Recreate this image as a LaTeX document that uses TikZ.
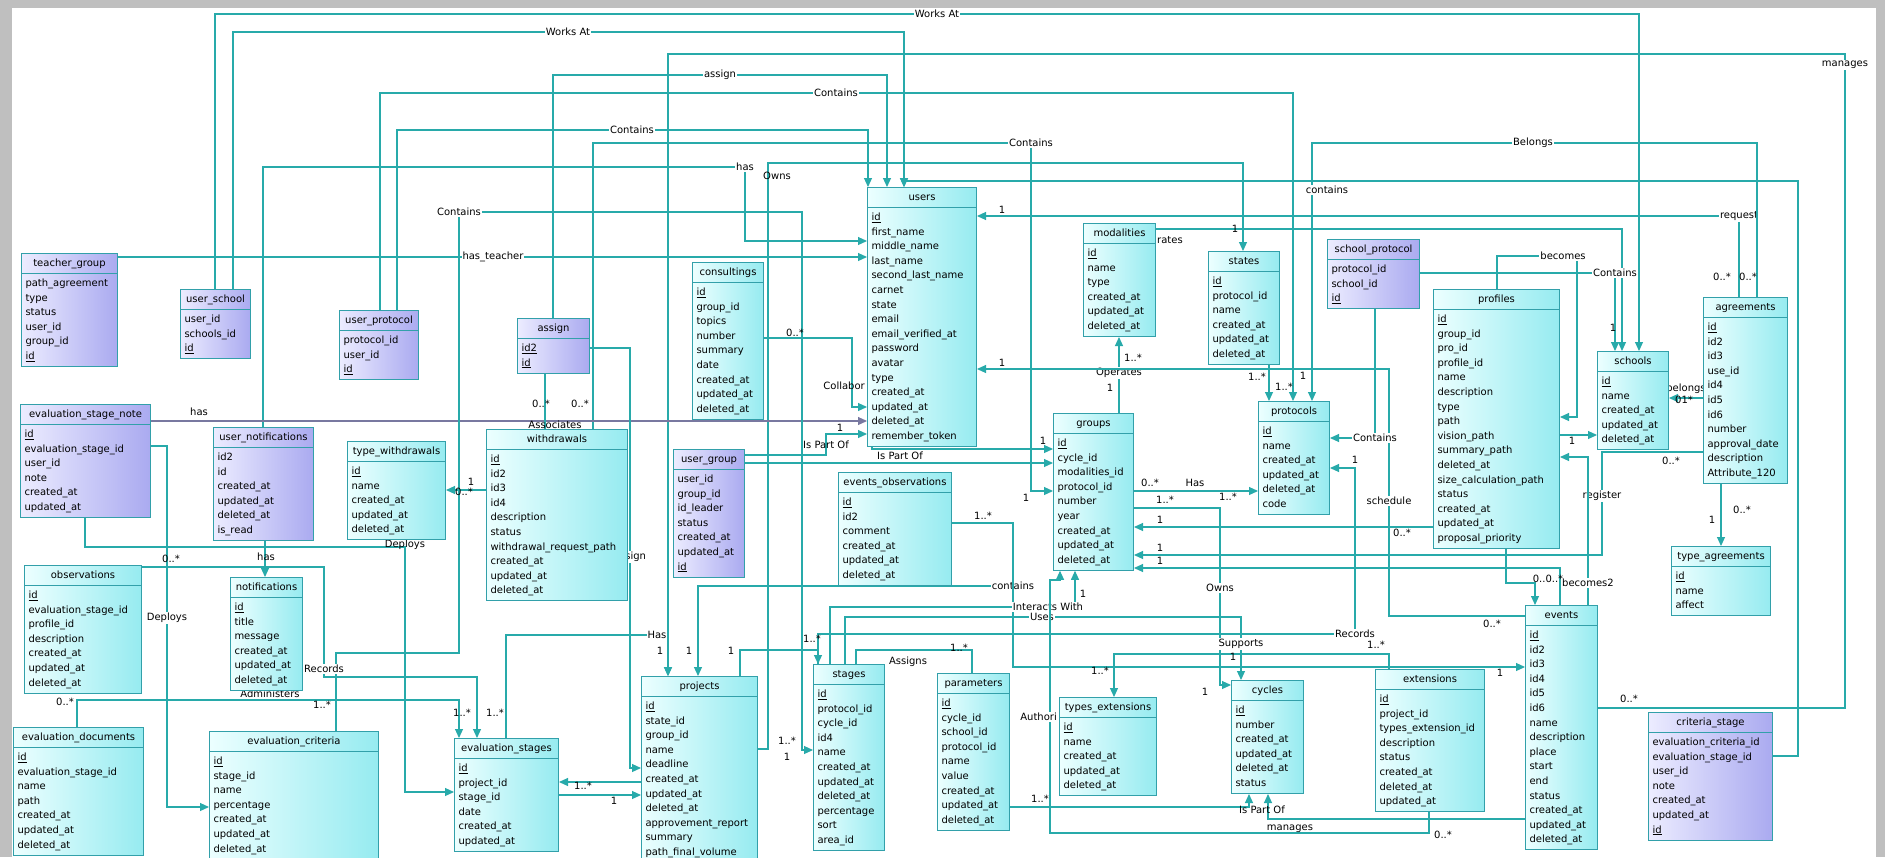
\documentclass[tikz,border=0pt]{standalone}
\usepackage{fontspec}
\setmainfont{DejaVu Sans}
\usetikzlibrary{arrows.meta, shapes.multipart}
\pgfdeclarelayer{frame}
\pgfdeclarelayer{background}
\pgfsetlayers{frame,background,main}
\definecolor{lnc}{RGB}{40,170,170}
\definecolor{bdc}{RGB}{50,160,170}
\definecolor{cyl}{RGB}{236,255,255}
\definecolor{cyr}{RGB}{150,235,240}
\definecolor{lvl}{RGB}{236,236,255}
\definecolor{lvr}{RGB}{170,170,240}
\definecolor{pln}{RGB}{120,120,160}
\newcommand{\tblfont}{\fontsize{10}{14.6}\selectfont}
\newcommand{\lblfont}{\fontsize{10}{12}\selectfont}
\begin{document}
\catcode`\_=12
\begin{tikzpicture}[x=1pt, y=-1pt,
    tbl/.style={draw=bdc, line width=1pt, rectangle split, rectangle split parts=2,
      rectangle split part align={center,left}, align=left, font=\tblfont,
      inner xsep=4pt, inner ysep=2.2pt, left color=cyl, right color=cyr, anchor=north west},
    lnk/.style={tbl, left color=lvl, right color=lvr},
    rel/.style={draw=lnc, line width=1.1pt, -{Triangle[length=9pt,width=8pt]}},
    relp/.style={rel, -},
    lbl/.style={font=\lblfont, fill=white, inner sep=1pt},
    card/.style={font=\lblfont, inner sep=1pt}]
  \useasboundingbox (0,0) rectangle (1885,857);
  \begin{pgfonlayer}{frame}
    \fill[gray!50] (0,0) rectangle (1885,857);
    \fill[white] (12,8) rectangle (1876,857);
  \end{pgfonlayer}

  % tables
  \foreach \tname/\x/\y/\w/\fields in {
      users/867/187/109/{\underline{id}\\first_name\\middle_name\\last_name\\second_last_name\\carnet\\state\\email\\email_verified_at\\password\\avatar\\type\\created_at\\updated_at\\deleted_at\\remember_token},
      consultings/692/262/71/{\underline{id}\\group_id\\topics\\number\\summary\\date\\created_at\\updated_at\\deleted_at},
      modalities/1083/223/72/{\underline{id}\\name\\type\\created_at\\updated_at\\deleted_at},
      states/1208/251/71/{\underline{id}\\protocol_id\\name\\created_at\\updated_at\\deleted_at},
      profiles/1433/289/126/{\underline{id}\\group_id\\pro_id\\profile_id\\name\\description\\type\\path\\vision_path\\summary_path\\deleted_at\\size_calculation_path\\status\\created_at\\updated_at\\proposal_priority},
      schools/1597/351/71/{\underline{id}\\name\\created_at\\updated_at\\deleted_at},
      agreements/1703/297/84/{\underline{id}\\id2\\id3\\use_id\\id4\\id5\\id6\\number\\approval_date\\description\\Attribute_120},
      type_agreements/1671/546/99/{\underline{id}\\name\\affect},
      type_withdrawals/347/441/98/{\underline{id}\\name\\created_at\\updated_at\\deleted_at},
      withdrawals/486/429/141/{\underline{id}\\id2\\id3\\id4\\description\\status\\withdrawal_request_path\\created_at\\updated_at\\deleted_at},
      events_observations/838/472/113/{\underline{id}\\id2\\comment\\created_at\\updated_at\\deleted_at},
      groups/1053/413/80/{\underline{id}\\cycle_id\\modalities_id\\protocol_id\\number\\year\\created_at\\updated_at\\deleted_at},
      protocols/1258/401/71/{\underline{id}\\name\\created_at\\updated_at\\deleted_at\\code},
      observations/24/565/117/{\underline{id}\\evaluation_stage_id\\profile_id\\description\\created_at\\updated_at\\deleted_at},
      notifications/230/577/72/{\underline{id}\\title\\message\\created_at\\updated_at\\deleted_at},
      evaluation_documents/13/727/130/{\underline{id}\\evaluation_stage_id\\name\\path\\created_at\\updated_at\\deleted_at},
      evaluation_criteria/209/731/169/{\underline{id}\\stage_id\\name\\percentage\\created_at\\updated_at\\deleted_at},
      evaluation_stages/454/738/104/{\underline{id}\\project_id\\stage_id\\date\\created_at\\updated_at},
      projects/641/676/116/{\underline{id}\\state_id\\group_id\\name\\deadline\\created_at\\updated_at\\deleted_at\\approvement_report\\summary\\path_final_volume},
      stages/813/664/71/{\underline{id}\\protocol_id\\cycle_id\\id4\\name\\created_at\\updated_at\\deleted_at\\percentage\\sort\\area_id},
      parameters/937/673/72/{\underline{id}\\cycle_id\\school_id\\protocol_id\\name\\value\\created_at\\updated_at\\deleted_at},
      types_extensions/1059/697/97/{\underline{id}\\name\\created_at\\updated_at\\deleted_at},
      cycles/1231/680/72/{\underline{id}\\number\\created_at\\updated_at\\deleted_at\\status},
      extensions/1375/669/109/{\underline{id}\\project_id\\types_extension_id\\description\\status\\created_at\\deleted_at\\updated_at},
      events/1525/605/72/{\underline{id}\\id2\\id3\\id4\\id5\\id6\\name\\description\\place\\start\\end\\status\\created_at\\updated_at\\deleted_at}}
    \node[tbl, minimum width=\w pt] (\tname) at (\x,\y) {\strut\tname\nodepart{two}\strut\fields\strut};

  \foreach \tname/\x/\y/\w/\fields in {
      teacher_group/21/253/96/{path_agreement\\type\\status\\user_id\\group_id\\\underline{id}},
      user_school/180/289/70/{user_id\\schools_id\\\underline{id}},
      user_protocol/339/310/79/{protocol_id\\user_id\\\underline{id}},
      assign/517/318/72/{\underline{id2}\\\underline{id}},
      school_protocol/1327/239/92/{protocol_id\\school_id\\\underline{id}},
      evaluation_stage_note/20/404/130/{\underline{id}\\evaluation_stage_id\\user_id\\note\\created_at\\updated_at},
      user_notifications/213/427/100/{id2\\id\\created_at\\updated_at\\deleted_at\\is_read},
      user_group/673/449/71/{user_id\\group_id\\id_leader\\status\\created_at\\updated_at\\\underline{id}},
      criteria_stage/1648/712/124/{evaluation_criteria_id\\evaluation_stage_id\\user_id\\note\\created_at\\updated_at\\\underline{id}}}
    \node[lnk, minimum width=\w pt] (\tname) at (\x,\y) {\strut\tname\nodepart{two}\strut\fields\strut};

  \begin{pgfonlayer}{background}
  % top lines
  \draw[rel] (user_school.north -| 215,0) -- (215,14) -- (937,14) node[lbl] (worksat1) {Works At} -- (1639,14) -- (schools.north -| 1639,0);
  \draw[rel] (user_school.north -| 233,0) -- (233,32) -- (568,32) node[lbl] (worksat2) {Works At} -- (904,32) -- (users.north -| 904,0);
  \draw[rel] (events.east |- 0,708) -- (1845,708) -- (1845,65) node[lbl] (manages1) {manages} -- (1845,54) -- (668,54) -- (projects.north -| 668,0);
  \draw[rel] (assign.north -| 553,0) -- (553,75) -- (720,75) node[lbl] (assign1) {assign} -- (887,75) -- (users.north -| 887,0);
  \draw[rel] (user_protocol.north -| 380,0) -- (380,93) -- (836,93) node[lbl] (contains1) {Contains} -- (1293,93) -- (protocols.north -| 1293,0);
  \draw[rel] (user_protocol.north -| 397,0) -- (397,130) -- (632,130) node[lbl] (contains2) {Contains} -- (868,130) -- (users.north -| 868,0);
  \draw[rel] (withdrawals.north -| 593,0) -- (593,143) -- (1031,143) node[lbl] (contains3) {Contains} -- (1031,491) -- (groups.west |- 0,491);
  \draw[rel] (projects.east |- 0,749) -- (768,749) -- (768,163) -- (1243,163) -- (states.north -| 1243,0);
  \draw[rel] (user_notifications.north -| 263,0) -- (263,167) -- (745,167) node[lbl] (has1) {has} -- (745,241) -- (users.west |- 0,241);
  \draw[rel] (teacher_group.east |- 0,257) -- (493,257) node[lbl] (hasteacher) {has_teacher} -- (users.west |- 0,257);
  \draw[rel, draw=pln] (evaluation_stage_note.east |- 0,421) -- (users.west |- 0,421);
  \draw[rel] (evaluation_criteria.north -| 336,0) -- (336,653) -- (459,653) -- (459,212) node[lbl] (contains4) {Contains} -- (802,212) -- (802,750) -- (stages.west |- 0,750);
  \draw[rel] (agreements.north -| 1739,0) -- (1739,216) node[lbl] (request1) {request} -- (users.east |- 0,216);
  \draw[rel] (agreements.north -| 1757,0) -- (1757,143) -- (1533,143) node[lbl] (belongs1) {Belongs} -- (1312,143) -- (protocols.north -| 1312,0);
  \node[lbl] (contains5) at (1327,190) {contains};
  \draw[rel] (modalities.east |- 0,229) -- (1622,229) -- (schools.north -| 1622,0);
  \draw[rel] (groups.north -| 1119,0) -- (1119,373) node[lbl] (operates1) {Operates} -- (modalities.south -| 1119,0);
  \draw[rel] (criteria_stage.east |- 0,756) -- (1798,756) -- (1798,181) -- (904,181) -- (users.north -| 904,0);
  \draw[rel] (states.south -| 1269,0) -- (protocols.north -| 1269,0);

  % middle
  \draw[rel] (events.west |- 0,616) -- (1389,616) -- (1389,501) node[lbl] (schedule1) {schedule} -- (1389,369) -- (users.east |- 0,369);
  \draw[rel] (school_protocol.south -| 1375,0) -- (1375,438) node[lbl] (contains6) {Contains} -- (protocols.east |- 0,438);
  \draw[rel] (stages.north -| 818,0) -- (818,634) -- (1355,634) node[lbl] (records1) {Records} -- (1355,468) -- (protocols.east |- 0,468);
  \draw[rel] (groups.east |- 0,491) -- (protocols.west |- 0,491);
  \draw[rel] (groups.east |- 0,508) -- (1220,508) -- (1220,588) node[lbl] (owns2) {Owns} -- (1220,685) -- (cycles.west |- 0,685);
  \draw[rel] (profiles.west |- 0,527) -- (groups.east |- 0,527);
  \draw[rel] (agreements.west |- 0,452) -- (1602,452) -- (1602,496) node[lbl] (register1) {register} -- (1602,555) -- (groups.east |- 0,555);
  \draw[rel] (events.north -| 1560,0) -- (1560,568) -- (groups.east |- 0,568);
  \draw[rel] (profiles.south -| 1506,0) -- (1506,583) -- (1535,583) -- (events.north -| 1535,0);
  \draw[rel] (profiles.north -| 1497,0) -- (1497,256) -- (1563,256) node[lbl] (becomes1) {becomes} -- (1577,256) -- (1577,417) -- (profiles.east |- 0,417);
  \draw[rel] (events.north -| 1588,0) -- (1588,583) node[lbl] (becomes2) {becomes2} -- (1588,457) -- (profiles.east |- 0,457);
  \draw[rel] (profiles.east |- 0,435) -- (schools.west |- 0,435);
  \draw[rel] (school_protocol.east |- 0,273) -- (1615,273) node[lbl] (contains7) {Contains} -- (schools.north -| 1615,0);
  \draw[rel] (agreements.west |- 0,398) -- (schools.east |- 0,398);
  \draw[rel] (agreements.south -| 1721,0) -- (type_agreements.north -| 1721,0);
  \draw[rel] (user_group.east |- 0,463) -- (groups.west |- 0,463);
  \draw[rel] (user_group.east |- 0,455) -- (826,455) -- (826,434) -- (users.west |- 0,434);
  \draw[rel] (users.south -| 872,0) -- (872,449) -- (groups.west |- 0,449);
  \draw[rel] (consultings.east |- 0,338) -- (852,338) -- (852,407) -- (users.west |- 0,407);
  \draw[rel] (withdrawals.west |- 0,490) -- (type_withdrawals.east |- 0,490);
  \draw[relp] (withdrawals.north -| 545,0) -- (assign.south -| 545,0);

  % bottom
  \draw[rel] (events_observations.east |- 0,523) -- (1013,523) -- (1013,586) node[lbl] (contains8) {contains} -- (698,586) -- (projects.north -| 698,0);
  \draw[rel] (events_observations.east |- 0,523) -- (1013,523) -- (1013,667) -- (events.west |- 0,667);
  \draw[rel] (stages.north -| 830,0) -- (830,607) -- (1048,607) node[lbl] (interacts1) {Interacts With} -- (1075,607) -- (groups.south -| 1075,0);
  \draw[rel] (stages.north -| 845,0) -- (845,617) -- (1042,617) node[lbl] (uses1) {Uses} -- (1241,617) -- (1241,644) node[lbl] (supports1) {Supports} -- (cycles.north -| 1241,0);
  \draw[relp] (parameters.north -| 972,0) -- (972,650) -- (856,650) -- (stages.north -| 856,0);
  \draw[rel] (evaluation_stages.north -| 506,0) -- (506,635) -- (657,635) node[lbl] (has2) {Has} -- (668,635) -- (projects.north -| 668,0);
  \draw[rel] (projects.north -| 740,0) -- (740,650) -- (818,650) -- (stages.north -| 818,0);
  \draw[rel] (assign.east |- 0,348) -- (630,348) -- (630,557) node[lbl] (assign2) {assign} -- (630,768) -- (projects.west |- 0,768);
  \draw[rel] (projects.west |- 0,782) -- (evaluation_stages.east |- 0,782);
  \draw[rel] (evaluation_stages.east |- 0,795) -- (projects.west |- 0,795);
  \draw[rel] (user_notifications.south -| 265,0) -- (notifications.north -| 265,0);
  \draw[rel] (evaluation_stage_note.east |- 0,446) -- (167,446) -- (167,618) node[lbl] (deploys1) {Deploys} -- (167,807) -- (evaluation_criteria.west |- 0,807);
  \draw[rel] (evaluation_stage_note.south -| 85,0) -- (85,547) -- (405,547) -- (405,792) -- (evaluation_stages.west |- 0,792);
  \draw[rel] (observations.east |- 0,567) -- (324,567) -- (324,669) node[lbl] (records2) {Records} -- (324,677) -- (477,677) -- (evaluation_stages.north -| 477,0);
  \draw[rel] (evaluation_documents.north -| 77,0) -- (77,700) -- (459,700) -- (evaluation_stages.north -| 459,0);
  \draw[rel] (extensions.north -| 1389,0) -- (1389,654) -- (1114,654) -- (types_extensions.north -| 1114,0);
  \draw[rel] (events.west |- 0,819) -- (1268,819) -- (cycles.south -| 1268,0);
  \draw[rel] (extensions.south -| 1429,0) -- (1429,833) -- (1050,833) -- (1050,580) -- (1060,580) -- (groups.south -| 1060,0);
  \draw[rel] (parameters.east |- 0,807) -- (1249,807) -- (cycles.south -| 1249,0);

  % labels cut by the tables in the picture
  \node[lbl, anchor=east] (authori) at (1058,717) {Authori};
  \node[card, anchor=east] (collabor) at (866,386) {Collabor};
  \node[card, anchor=west] (rates) at (1156,240) {rates};
  \node[card, anchor=south] (associates) at (555,430) {Associates};
  \node[card, anchor=north] (deploys2) at (405,539) {Deploys};
  \node[card, anchor=north] (administers) at (270,689) {Administers};

  % cardinalities
  \foreach \x/\y/\lab [count=\i] in {1629/699/0..*, 660/651/1, 689/651/1, 731/651/1, 1284/387/1..*,
      1257/377/1..*, 1303/376/1, 580/404/0..*, 541/404/0..*, 1026/498/1, 1043/441/1, 1235/229/1,
      777/176/Owns, 1002/210/1, 1722/277/0..*, 1748/277/0..*, 1613/328/1, 1133/358/1..*, 1110/388/1,
      1002/363/1, 1492/624/0..*, 1150/483/0..*, 1195/483/Has, 1228/497/1..*, 1165/500/1..*,
      1205/692/1, 1402/533/0..*, 1160/520/1, 1160/548/1, 1160/561/1, 1671/461/0..*, 1548/579/0..0..*,
      1572/441/1, 1686/389/belongs, 1684/400/01*, 1742/510/0..*, 1712/520/1, 983/516/1..*,
      1500/673/1, 1083/594/1, 1233/657/1, 908/662/Assigns, 959/648/1..*, 812/639/1..*, 787/741/1..*,
      787/757/1, 1376/645/1..*, 1100/671/1..*, 1262/810/Is Part Of, 1290/829/manages, 1443/835/0..*,
      1040/799/1..*, 1355/460/1, 583/786/1..*, 614/801/1, 471/482/1, 464/492/0..*, 826/445/Is Part Of,
      900/456/Is Part Of, 840/428/1, 795/333/0..*, 266/557/has, 171/559/0..*,
      199/412/has, 65/702/0..*, 322/705/1..*, 462/713/1..*, 495/713/1..*}
    \node[card] (card\i) at (\x,\y) {\lab};
  \end{pgfonlayer}
\end{tikzpicture}
\end{document}
